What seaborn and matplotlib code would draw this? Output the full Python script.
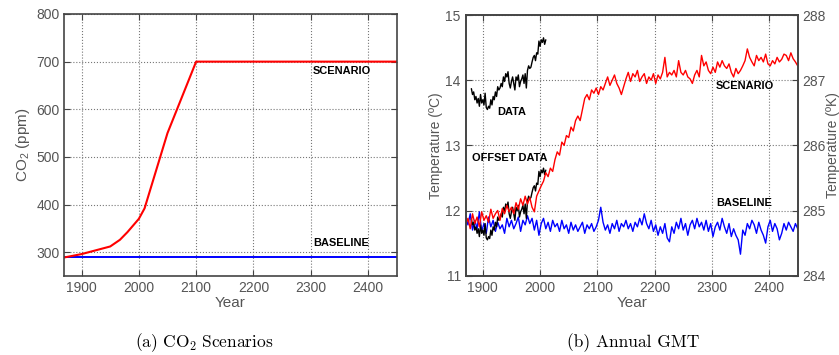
import matplotlib
matplotlib.use("Agg")
import matplotlib.pyplot as plt
import numpy as np
import seaborn as sns

# --- panel (a): CO2 scenarios (ppm) ---
co2_years = [1870, 1900, 1950, 1967, 1980, 2000, 2010, 2050, 2100, 2450]
co2_scenario = [289, 296, 312, 326, 342, 370, 392, 550, 700, 700]
co2_base_years = [1870, 2450]
co2_baseline = [289, 289]

# --- panel (b): annual GMT (deg C), read every 4 years ---
gmt_years = np.arange(1870, 2451, 4)
gmt_scenario = [
    11.78, 11.88, 11.72, 11.95, 11.80, 11.90, 11.75, 11.98, 11.85, 11.92,
    11.82, 12.02, 11.88, 11.95, 12.00, 11.85, 12.03, 11.95, 12.08, 11.98,
    12.05, 11.95, 12.12, 12.02, 12.18, 12.08, 12.22, 12.10, 12.20, 12.05,
    11.98, 12.22, 12.30, 12.38, 12.45, 12.58, 12.52, 12.65, 12.60, 12.78,
    12.90, 12.85, 13.05, 13.00, 13.15, 13.12, 13.28, 13.22, 13.38, 13.45,
    13.38, 13.55, 13.72, 13.78, 13.70, 13.85, 13.80, 13.88, 13.78, 13.90,
    13.85, 13.95, 14.05, 13.92, 14.00, 14.08, 13.95, 13.88, 13.78, 13.90,
    14.02, 14.12, 13.98, 14.10, 14.05, 14.15, 13.98, 14.05, 14.10, 13.95,
    14.05, 14.00, 14.10, 13.95, 14.08, 14.02, 14.12, 14.35, 14.05, 14.12,
    14.08, 14.15, 14.05, 14.30, 14.12, 14.08, 14.15, 14.05, 14.02, 13.95,
    14.08, 14.15, 14.05, 14.38, 14.22, 14.28, 14.15, 14.10, 14.20, 14.12,
    14.28, 14.20, 14.30, 14.22, 14.18, 14.25, 14.12, 14.05, 14.18, 14.10,
    14.15, 14.22, 14.30, 14.48, 14.35, 14.28, 14.22, 14.38, 14.30, 14.35,
    14.28, 14.40, 14.25, 14.22, 14.30, 14.25, 14.35, 14.28, 14.32, 14.40,
    14.38, 14.30, 14.42, 14.33, 14.28, 14.22,
]
gmt_baseline = [
    11.92, 11.78, 11.95, 11.70, 11.85, 11.72, 11.98, 11.68, 11.80, 11.65,
    11.90, 11.75, 11.85, 11.68, 11.82, 11.72, 11.78, 11.65, 11.88, 11.75,
    11.85, 11.72, 11.80, 11.90, 11.68, 11.85, 11.78, 11.92, 11.80, 11.88,
    11.70, 11.85, 11.62, 11.80, 11.88, 11.72, 11.82, 11.68, 11.85, 11.75,
    11.80, 11.68, 11.85, 11.72, 11.78, 11.65, 11.82, 11.70, 11.78, 11.68,
    11.75, 11.82, 11.65, 11.78, 11.72, 11.80, 11.68, 11.75, 11.85, 12.05,
    11.82, 11.70, 11.78, 11.65, 11.80, 11.72, 11.85, 11.68, 11.80, 11.75,
    11.85, 11.72, 11.80, 11.68, 11.82, 11.75, 11.88, 11.78, 11.95, 11.80,
    11.72, 11.85, 11.68, 11.78, 11.62, 11.75, 11.65, 11.80, 11.58, 11.52,
    11.75, 11.65, 11.82, 11.72, 11.88, 11.70, 11.80, 11.62, 11.78, 11.85,
    11.72, 11.88, 11.75, 11.82, 11.70, 11.85, 11.68, 11.80, 11.60, 11.75,
    11.82, 11.70, 11.88, 11.75, 11.65, 11.80, 11.60, 11.72, 11.62, 11.55,
    11.33, 11.70, 11.62, 11.80, 11.72, 11.85, 11.78, 11.65, 11.82, 11.70,
    11.62, 11.50, 11.75, 11.85, 11.68, 11.80, 11.72, 11.55, 11.65, 11.80,
    11.70, 11.82, 11.75, 11.68, 11.80, 11.72,
]

# observed record, every 2 years
obs_years = np.arange(1880, 2011, 2)
obs_temp = [
    13.87, 13.78, 13.82, 13.70, 13.75, 13.65, 13.72, 13.60, 13.78, 13.65,
    13.70, 13.62, 13.80, 13.58, 13.55, 13.60, 13.57, 13.70, 13.62, 13.75,
    13.70, 13.82, 13.75, 13.90, 13.85, 13.88, 13.95, 13.90, 14.05, 13.98,
    14.10, 14.05, 14.13, 13.95, 13.88, 13.98, 14.05, 13.95, 13.85, 14.05,
    14.00, 14.08, 13.90, 13.98, 14.02, 14.08, 13.95, 14.10, 13.88, 14.15,
    14.22, 14.18, 14.20, 14.28, 14.35, 14.38, 14.30, 14.42, 14.40, 14.60,
    14.52, 14.62, 14.58, 14.65, 14.55, 14.62,
]
obs_offset = 2.0  # OFFSET DATA = DATA shifted down

sns.set_style("ticks")
plt.rcParams["font.family"] = ["Liberation Sans", "DejaVu Sans"]

TICK_GRAY = "#555555"
SPINE_GRAY = "#444444"
NOTE = dict(fontsize=7.9, fontweight="bold", va="center", color="black")


def style_axis(ax):
    ax.grid(True, linestyle=":", color="#777777", linewidth=0.8)
    ax.tick_params(direction="in", length=4, colors=SPINE_GRAY,
                   labelcolor=TICK_GRAY, labelsize=10, top=True)
    for sp in ax.spines.values():
        sp.set_visible(True)
        sp.set_color(SPINE_GRAY)
        sp.set_linewidth(1.2)


fig = plt.figure(figsize=(8.39, 3.55), dpi=100)

# (a)
ax1 = fig.add_axes([0.0767, 0.2225, 0.3961, 0.7381])
sns.lineplot(x=co2_base_years, y=co2_baseline, color="#0000ff", lw=1.4, ax=ax1)
sns.lineplot(x=co2_years, y=co2_scenario, color="#ff0000", lw=1.5, ax=ax1)
ax1.set_xlim(1870, 2450)
ax1.set_ylim(250, 800)
ax1.set_xticks([1900, 2000, 2100, 2200, 2300, 2400])
ax1.set_yticks([300, 400, 500, 600, 700, 800])
style_axis(ax1)
ax1.tick_params(right=True)
ax1.set_xlabel("Year", fontsize=11, color=TICK_GRAY, labelpad=1)
ax1.set_ylabel(r"CO$_\mathregular{2}$ (ppm)", fontsize=11, color=TICK_GRAY, labelpad=3)
ax1.text(2304, 680, "SCENARIO", **NOTE)
ax1.text(2305, 320, "BASELINE", **NOTE)

# (b)
ax2 = fig.add_axes([0.555, 0.2234, 0.3958, 0.7343])
sns.lineplot(x=gmt_years, y=gmt_baseline, color="#0000ff", lw=1.0, ax=ax2)
sns.lineplot(x=obs_years, y=np.array(obs_temp) - obs_offset, color="black", lw=1.0, ax=ax2)
sns.lineplot(x=gmt_years, y=gmt_scenario, color="#ff0000", lw=1.0, ax=ax2)
sns.lineplot(x=obs_years, y=obs_temp, color="black", lw=1.0, ax=ax2)
ax2.set_xlim(1870, 2450)
ax2.set_ylim(11, 15)
ax2.set_xticks([1900, 2000, 2100, 2200, 2300, 2400])
ax2.set_yticks([11, 12, 13, 14, 15])
style_axis(ax2)
ax2.set_xlabel("Year", fontsize=11, color=TICK_GRAY, labelpad=1)
ax2.set_ylabel("Temperature (ºC)", fontsize=10, color=TICK_GRAY, labelpad=2)
ax2.text(2307, 13.91, "SCENARIO", **NOTE)
ax2.text(2308, 12.11, "BASELINE", **NOTE)
ax2.text(1926, 13.51, "DATA", **NOTE)
ax2.text(1881, 12.81, "OFFSET DATA", **NOTE)

ax3 = ax2.twinx()
ax3.set_ylim(284, 288)
ax3.set_yticks([284, 285, 286, 287, 288])
ax3.tick_params(direction="in", length=4, colors=SPINE_GRAY,
                labelcolor=TICK_GRAY, labelsize=10)
for sp in ax3.spines.values():
    sp.set_color(SPINE_GRAY)
    sp.set_linewidth(1.2)
ax3.set_ylabel("Temperature (ºK)", fontsize=10, color=TICK_GRAY, labelpad=0)

# captions
fig.text(0.243, 0.034, r"(a) CO$_\mathregular{2}$ Scenarios", ha="center", va="center",
         fontsize=12.5, family="cmr10", color="black")
fig.text(0.755, 0.034, "(b) Annual GMT", ha="center", va="center",
         fontsize=12.5, family="cmr10", color="black")

fig.savefig("out.png", dpi=100)
